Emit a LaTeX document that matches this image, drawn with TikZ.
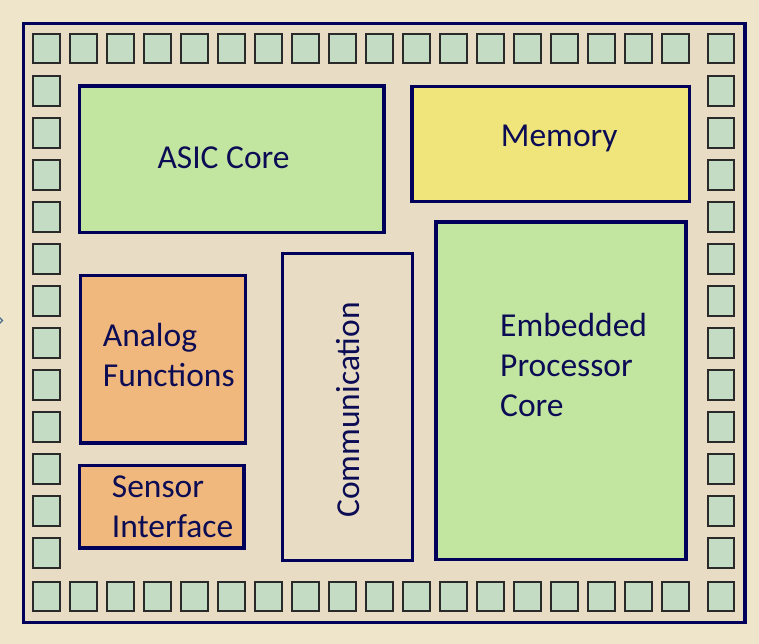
\documentclass[tikz,border=0pt]{standalone}
\usepackage{fontspec}
\setmainfont{Carlito}

\definecolor{pagebg}{HTML}{EFE5CB}
\definecolor{diebg}{HTML}{E8DDC4}
\definecolor{dieline}{HTML}{00005A}
\definecolor{padfill}{HTML}{C3DCC3}
\definecolor{padline}{HTML}{2A2A2A}
\definecolor{asicgreen}{HTML}{C2E5A0}
\definecolor{memyellow}{HTML}{F0E57A}
\definecolor{analogorange}{HTML}{F0B87C}
\definecolor{labelblue}{HTML}{0C0C55}
\definecolor{chevron}{HTML}{4A6A8A}

\tikzset{
  pad/.style={draw=padline, fill=padfill, line width=2, minimum width=26.5, minimum height=29.5, inner sep=0},
  block/.style={draw=dieline, line width=3.5, inner sep=0},
  blocklabel/.style={text=labelblue, align=left, font=\fontsize{33.5}{40}\selectfont, inner sep=0}
}

\begin{document}
\begin{tikzpicture}[x=1pt,y=-1pt]
  \useasboundingbox (0,0) rectangle (759,644);
  % background
  \fill [pagebg] (0,0) rectangle (759,644);
  % small mark at left edge
  \draw [line width=1.3, chevron] (-3,315) -- (2.5,320.5) -- (-3,326);
  % die outline
  \draw [line width=3.5, dieline, fill=diebg] (23.5,23.5) rectangle (745,622.5);
  % top and bottom rows of pads
  \foreach \k in {0,...,17} {
    \node [pad] (padt\k) at (46.5+37*\k,48.5) {};
    \node [pad] (padb\k) at (46.5+37*\k,596.5) {};
  }
  % corner pads on the right
  \node [pad] (padtr) at (721,48.5) {};
  \node [pad] (padbr) at (721,596.5) {};
  % left and right columns of pads
  \foreach \k in {0,...,11} {
    \node [pad] (padl\k) at (46.5,91+42*\k) {};
    \node [pad] (padr\k) at (721,91+42*\k) {};
  }
  % ASIC core top left
  \node [block, fill=asicgreen, minimum width=304.7, minimum height=146.7] (asic) at (231.6,159.3) {};
  \node [blocklabel, anchor=base west] (asiclabel) at (157.3,168.3) {ASIC Core};
  % memory top right
  \node [block, fill=memyellow, minimum width=277.3, minimum height=114.6] (memory) at (550.6,144) {};
  \node [blocklabel, anchor=base west] (memorylabel) at (500.7,146.7) {Memory};
  % embedded processor core (base = last line)
  \node [block, fill=asicgreen, minimum width=250, minimum height=337.3] (embedded) at (561,390.7) {};
  \node [blocklabel, anchor=base west] (embeddedlabel) at (500,416.7) {Embedded\\Processor\\Core};
  % analog functions
  \node [block, fill=analogorange, minimum width=165, minimum height=167.7] (analog) at (162.8,359.2) {};
  \node [blocklabel, anchor=base west] (analoglabel) at (102.7,386.7) {Analog\\Functions};
  % sensor interface
  \node [block, fill=analogorange, minimum width=164.7, minimum height=82.7] (sensor) at (161.7,506.7) {};
  \node [blocklabel, anchor=base west] (sensorlabel) at (111.7,537.7) {Sensor\\Interface};
  % communication, text turned up
  \node [block, fill=diebg, line width=3, minimum width=130.3, minimum height=307] (comm) at (347.4,407.3) {};
  \node [blocklabel, rotate=90] (commlabel) at (348.3,410) {Communication};
\end{tikzpicture}
\end{document}
